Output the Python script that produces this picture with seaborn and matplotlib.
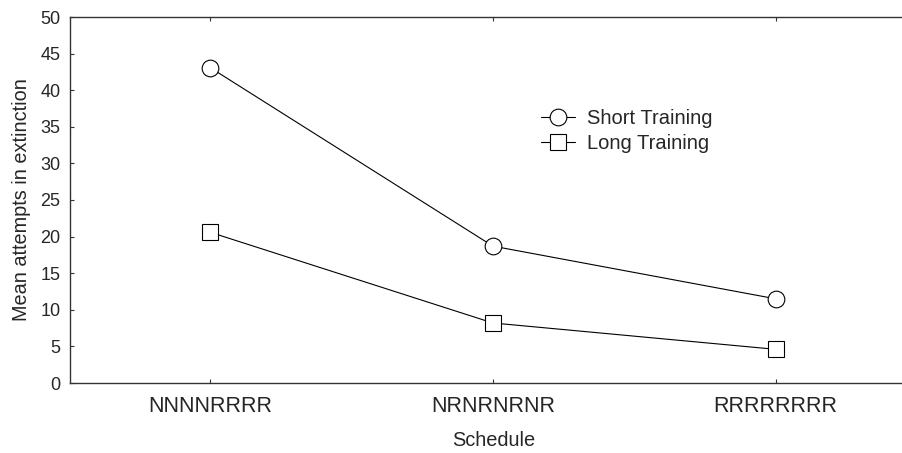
import matplotlib
matplotlib.use("Agg")
import matplotlib.pyplot as plt
import seaborn as sns
import pandas as pd
from matplotlib.lines import Line2D

schedules = ["NNNNRRRR", "NRNRNRNR", "RRRRRRRR"]
short_training = [43.1, 18.7, 11.5]
long_training = [20.6, 8.2, 4.6]
series_names = ["Short Training", "Long Training"]
y_ticks = [0, 5, 10, 15, 20, 25, 30, 35, 40, 45, 50]

sns.set_theme(style="white")
plt.rcParams['font.family'] = ['Liberation Sans', 'DejaVu Sans']

fig = plt.figure(figsize=(9.03, 4.53), dpi=100)
ax = fig.add_axes([70/903, 70/453, 1 - 70/903, (383-17)/453])

df = pd.DataFrame({
    "Schedule": schedules * 2,
    "Value": short_training + long_training,
    "Series": [series_names[0]] * 3 + [series_names[1]] * 3,
})
df["pos"] = [0, 1, 2] * 2

markers = {"Short Training": "o", "Long Training": "s"}
for name in series_names:
    sub = df[df["Series"] == name]
    sns.lineplot(data=sub, x="pos", y="Value", ax=ax, color="black",
                 linewidth=0.8, marker=markers[name], markersize=12,
                 markerfacecolor="white", markeredgecolor="black",
                 markeredgewidth=0.8, legend=False)

ax.set_xlim(-0.495, 2.45)
ax.set_ylim(0, 50)
ax.set_xticks([0, 1, 2])
ax.set_xticklabels(schedules, fontsize=15.5)
ax.set_yticks(y_ticks)
ax.set_yticklabels([str(v) for v in y_ticks], fontsize=13)
ax.tick_params(axis="x", direction="in", length=3, width=0.8, color="#333333",
               top=True, bottom=True, pad=9)
ax.tick_params(axis="y", direction="in", length=3, width=0.8, color="#333333",
               left=True, pad=7)
ax.set_xlabel("Schedule", fontsize=14.4)
ax.set_ylabel("Mean attempts in extinction", fontsize=14.3)
ax.xaxis.set_label_coords((494 - 70) / 833, -(431 - 383) / 366)
ax.yaxis.set_label_coords(-(70 - 31) / 833, 0.5)

for s in ["left", "top", "bottom"]:
    ax.spines[s].set_visible(True)
    ax.spines[s].set_color("#333333")
    ax.spines[s].set_linewidth(1.0)
ax.spines["right"].set_visible(False)

handles = [
    Line2D([], [], color="black", linewidth=0.8, marker="o", markersize=12,
           markerfacecolor="white", markeredgecolor="black", markeredgewidth=0.8),
    Line2D([], [], color="black", linewidth=0.8, marker="s", markersize=12,
           markerfacecolor="white", markeredgecolor="black", markeredgewidth=0.8),
]
leg = ax.legend(handles, series_names, frameon=False, fontsize=14.5,
                loc="upper left", handlelength=1.7, handletextpad=0.6,
                labelspacing=0.3)
leg.set_bbox_to_anchor((523/903, 1 - 91/453), transform=fig.transFigure)

fig.savefig("out.png", dpi=100)
